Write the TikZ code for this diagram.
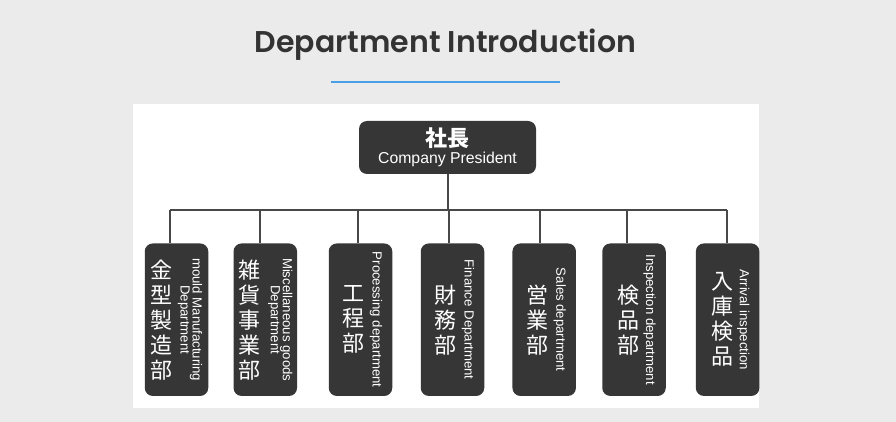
\documentclass[tikz,border=0pt]{standalone}
\usepackage{fontspec}
\setmainfont{Liberation Sans}
\newfontfamily\cjk{Noto Sans CJK JP}
\newfontfamily\titlefont{Poppins SemiBold}

\definecolor{pagegrey}{HTML}{EBEBEB}
\definecolor{boxgrey}{HTML}{363636}
\definecolor{linegrey}{HTML}{484848}
\definecolor{titlegrey}{HTML}{333333}
\definecolor{titleblue}{HTML}{4A9EE6}

\begin{document}
\begin{tikzpicture}[x=1pt, y=-1pt,
  boss/.style={fill=boxgrey, rounded corners=8pt, text=white, align=center,
    minimum width=177pt, minimum height=53pt, inner sep=0pt},
  dept/.style={fill=boxgrey, rounded corners=8pt,
    minimum width=63.5pt, minimum height=152.5pt, inner sep=0pt},
  cjkword/.style={text=white, align=center, inner sep=0pt,
    font=\cjk\fontsize{22}{25}\selectfont},
  engword/.style={text=white, align=center, inner sep=0pt, rotate=-90, anchor=north,
    font=\fontsize{13.2}{12}\selectfont},
  link/.style={draw=linegrey, line width=2pt}]

  % 1. Page, panel and title
  \useasboundingbox (0,0) rectangle (896,422);
  \fill[pagegrey] (0,0) rectangle (896,422);
  \fill[white] (133,104) rectangle (759,408);
  \node[text=titlegrey, anchor=base, inner sep=0pt,
    font=\titlefont\fontsize{30}{30}\selectfont] (title) at (445.5,52.5) {Department Introduction};
  \draw[titleblue, line width=2pt] (331,82.5) -- (560,82.5);

  % 2. The president
  \node[boss] (pres) at (447.5,147.5)
    {{\cjk\bfseries\fontsize{22}{18}\selectfont 社長}\\[2pt]
     {\fontsize{15.8}{18}\selectfont Company President}};

  % --- STEP 1: THE DEPARTMENTS ---
  % box centre / drop / shift of the kanji / kanji / english / gap at the right
  \foreach \cx/\tx/\cs/\kanji/\eng/\es [count=\i] in {
      176.5/169.5/-14.8/{金\\型\\製\\造\\部}/{mould Manufacturing\\Department}/6,
      265.3/260/-16.3/{雑\\貨\\事\\業\\部}/{Miscellaneous goods\\Department}/4.5,
      360.5/357.5/-7.5/{工\\程\\部}/{Processing department}/10,
      452.5/449/-7.5/{財\\務\\部}/{Finance Department}/10,
      544.2/540/-7/{営\\業\\部}/{Sales department}/10,
      634/627.3/-6/{検\\品\\部}/{Inspection department}/10,
      727.6/726.5/-5.6/{入\\庫\\検\\品}/{Arrival inspection}/10}{
    \node[dept] (d\i) at (\cx,319.7) {};
    \node[cjkword] (k\i) at ([xshift=\cs]d\i.center) {\kanji};
    \node[engword] (e\i) at ([xshift=-\es]d\i.east) {\eng};
    \coordinate (t\i) at (\tx,210);
    \draw[link] (t\i) -- (t\i |- d\i.north);
  }

  % --- STEP 2: THE BUS ---
  \draw[link] (t1) -- (t7);
  \draw[link] (pres.south) -- (pres.south |- t1);
\end{tikzpicture}
\end{document}
